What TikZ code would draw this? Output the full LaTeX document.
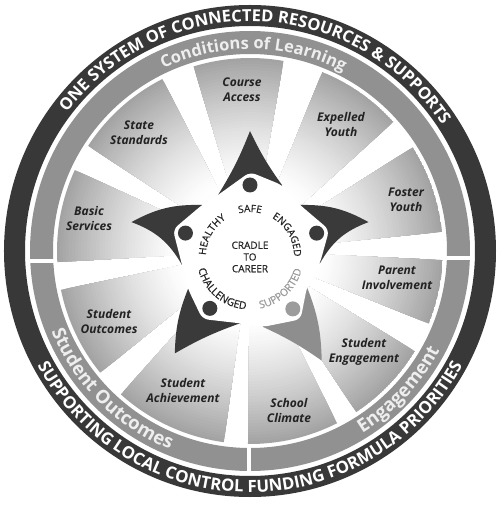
\documentclass[tikz,border=0pt]{standalone}
\usepackage{fontspec}
\setmainfont{Open Sans}
\newfontfamily\innerfam{Open Sans}[FakeBold=0.6]
\usetikzlibrary{decorations.text}
\definecolor{ringdark}{HTML}{383838}
\definecolor{ringgray}{HTML}{919191}
\definecolor{stardark}{HTML}{3A3A3A}
\definecolor{starlight}{HTML}{8E8E8E}
\definecolor{dotlight}{HTML}{9C9C9C}
\definecolor{labeltext}{HTML}{222222}
\definecolor{ringlabel}{HTML}{EEEEEE}
\definecolor{innertext}{HTML}{262626}
\definecolor{supptext}{HTML}{9A9A9A}
\newcommand\outerfont{\fontsize{16.5}{18}\selectfont\bfseries}
\newcommand\outerbotfont{\fontsize{16.8}{19}\selectfont\bfseries}
\newcommand\condfont{\fontsize{16.5}{18}\selectfont\bfseries}
\newcommand\botfont{\fontsize{18.5}{20}\selectfont\bfseries}
\newcommand\innerfont{\innerfam\fontsize{10}{11.7}\selectfont}
\newcommand\innerbotfont{\innerfam\fontsize{10.5}{11.7}\selectfont}
\tikzset{
  lbl/.style={font=\fontsize{12}{15}\selectfont\bfseries\itshape, align=center, text=labeltext, inner sep=0pt},
  ctr/.style={font=\innerfont, align=center, text=innertext, inner sep=0pt},
  divider/.style={fill=white},
  blade/.style={fill=stardark},
  bladelight/.style={fill=starlight},
}
\begin{document}
\begin{tikzpicture}[x=1pt,y=1pt]
\useasboundingbox (-250,-255) rectangle (250,251);
\fill[white] (-250,-255) rectangle (250,251);

% outer dark ring
\fill[ringdark, even odd rule] (0,0) circle (246pt) (0,0) circle (225pt);
% gray ring
\fill[ringgray, even odd rule] (0,0) circle (220pt) (0,0) circle (197pt);
% dividers of the gray ring
\fill[divider] (-223,-12) rectangle (-193,-8);
\fill[divider] (193,-9) rectangle (223,-5);
\fill[divider] (-3,-223) rectangle (1,-193);

% shaded wedges (radial gradient built from concentric discs)
\begin{scope}
  \clip (0,0) -- (80:193pt) arc[start angle=80, end angle=107, radius=193pt] -- cycle
        (0,0) -- (42:193pt) arc[start angle=42, end angle=68, radius=193pt] -- cycle
        (0,0) -- (5.7:193pt) arc[start angle=5.7, end angle=32.5, radius=193pt] -- cycle
        (0,0) -- (-22.1:193pt) arc[start angle=-22.1, end angle=-2.7, radius=193pt] -- cycle
        (0,0) -- (-56.6:193pt) arc[start angle=-56.6, end angle=-31.3, radius=193pt] -- cycle
        (0,0) -- (-90.6:193pt) arc[start angle=-90.6, end angle=-63.2, radius=193pt] -- cycle
        (0,0) -- (-132:193pt) arc[start angle=-132, end angle=-97.8, radius=193pt] -- cycle
        (0,0) -- (191.6:193pt) arc[start angle=191.6, end angle=219.1, radius=193pt] -- cycle
        (0,0) -- (155.2:193pt) arc[start angle=155.2, end angle=183.3, radius=193pt] -- cycle
        (0,0) -- (117:193pt) arc[start angle=117, end angle=147, radius=193pt] -- cycle;
  \foreach \r in {193,190,...,73}{
    \pgfmathsetmacro\pc{36*((\r-70)/123)^1.3}
    \fill[black!\pc] (0,0) circle (\r pt);
  }
\end{scope}

% star blades
\fill[blade] (119.7:64.5pt) to[bend right=5] (90:120pt) to[bend right=5] (64.1:73.3pt) -- (0,0) -- cycle;
\fill[blade] (42.6:68pt) to[bend left=15] (13.7:122pt) to[bend right=20] (-10:71pt) -- (0,0) -- cycle;
\fill[bladelight] (-32.3:67.4pt) to[bend left=10] (-56.8:131pt) to[bend right=5] (-80.3:77pt) -- (0,0) -- cycle;
\fill[blade] (-97.9:73pt) to[bend right=5] (-126.3:127pt) to[bend left=10] (-148.5:72.7pt) -- (0,0) -- cycle;
\fill[blade] (191.6:69.4pt) to[bend right=20] (166.3:122pt) to[bend left=15] (136.2:66.5pt) -- (0,0) -- cycle;

% white centre
\fill[white, rounded corners=6pt] (191.6:69.4pt) -- (-148.5:72.7pt) -- (-125:83pt) -- (-97.9:73pt)
  -- (-80.3:77pt) -- (-53.5:85pt) -- (-32.3:67.4pt) -- (-10:71pt) -- (15:82pt) -- (42.6:68pt)
  -- (64.1:73.3pt) -- (90:79pt) -- (119.7:64.5pt) -- (136.2:66.5pt) -- (164.5:80pt) -- cycle;

% dots
\fill[stardark] (90:66pt) circle (7.5pt);
\fill[stardark] (15:69pt) circle (7.5pt);
\fill[dotlight] (-53.5:72pt) circle (7.5pt);
\fill[stardark] (-125:70pt) circle (7.5pt);
\fill[stardark] (164.5:67pt) circle (7.5pt);

% inner words
\begin{scope}[shift={(0,-5)}]
  \path[decorate, decoration={text along path, text align=center, text={|\innerfont\color{innertext}|SAFE}}]
    (150:44pt) arc[start angle=150, end angle=30, radius=44pt];
  \path[decorate, decoration={text along path, text align=center, text={|\innerfont\color{innertext}|ENGAGED}}]
    (89.5:44pt) arc[start angle=89.5, end angle=-30.5, radius=44pt];
  \path[decorate, decoration={text along path, text align=center, text={|\innerfont\color{innertext}|HEALTHY}}]
    (211:44pt) arc[start angle=211, end angle=91, radius=44pt];
  \path[decorate, decoration={text along path, text align=center, text={|\innerbotfont\color{innertext}|CHALLENGED}}]
    (170:53.5pt) arc[start angle=170, end angle=290, radius=53.5pt];
  \path[decorate, decoration={text along path, text align=center, text={|\innerbotfont\color{supptext}|SUPPORTED}}]
    (253:53.5pt) arc[start angle=253, end angle=373, radius=53.5pt];
\end{scope}
\node[ctr] (cradle) at (0,-6) {CRADLE\\TO\\CAREER};

% wedge labels
\node[lbl] (course) at (-8,161) {Course\\Access};
\node[lbl] (state) at (-111,118) {State\\Standards};
\node[lbl] (basic) at (-161,32) {Basic\\Services};
\node[lbl] (outcomes) at (-141,-70) {Student\\Outcomes};
\node[lbl] (achieve) at (-67,-139) {Student\\Achievement};
\node[lbl] (climate) at (39,-159) {School\\Climate};
\node[lbl] (engage) at (114,-101) {Student\\Engagement};
\node[lbl] (parent) at (147,-27) {Parent\\Involvement};
\node[lbl] (foster) at (156,51) {Foster\\Youth};
\node[lbl] (expelled) at (91,126) {Expelled\\Youth};

% gray ring labels
\path[decorate, decoration={text along path, text align=center, text={|\condfont\color{ringlabel}|Conditions of Learning}}]
  (149:202pt) arc[start angle=149, end angle=29, radius=202pt];
\path[decorate, decoration={text along path, text align=center, text={|\botfont\color{ringlabel}|Student Outcomes}}]
  (170:214pt) arc[start angle=170, end angle=280, radius=214pt];
\path[decorate, decoration={text along path, text align=center, text={|\botfont\color{ringlabel}|Engagement}}]
  (277:214pt) arc[start angle=277, end angle=357, radius=214pt];

% dark ring texts
\path[decorate, decoration={text along path, text align=center, text={|\outerfont\color{white}|ONE SYSTEM OF CONNECTED RESOURCES {\&} SUPPORTS}}]
  (168:229.6pt) arc[start angle=168, end angle=8, radius=229.6pt];
\path[decorate, decoration={text along path, text align=center, text={|\outerbotfont\color{white}|SUPPORTING LOCAL CONTROL FUNDING FORMULA PRIORITIES}}]
  (185:241.4pt) arc[start angle=185, end angle=355, radius=241.4pt];
\end{tikzpicture}
\end{document}
